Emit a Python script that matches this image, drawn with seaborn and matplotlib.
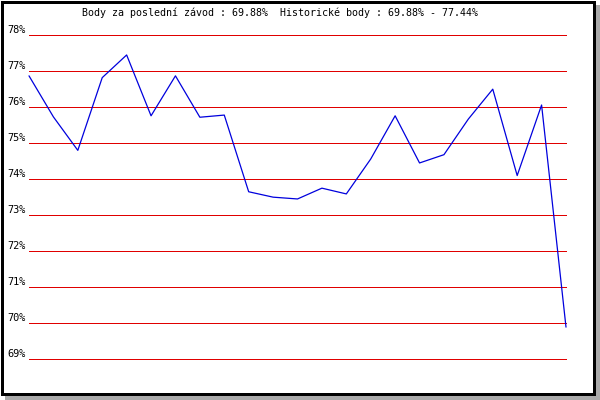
import matplotlib
matplotlib.use("Agg")
import matplotlib.pyplot as plt
import seaborn as sns
import pandas as pd
from matplotlib.patches import Rectangle

races = list(range(23))
scores = [76.86, 75.72, 74.79, 76.81, 77.44, 75.75, 76.86, 75.71, 75.77, 73.64,
          73.49, 73.44, 73.74, 73.58, 74.55, 75.75, 74.44, 74.67, 75.66, 76.49,
          74.09, 76.05, 69.88]
tick_values = [69, 70, 71, 72, 73, 74, 75, 76, 77, 78]
tick_labels = [f"{v}%" for v in tick_values]
title = "Body za poslední závod : 69.88%  Historické body : 69.88% - 77.44%"

sns.set_style("white")
plt.rcParams['font.family'] = ['DejaVu Sans Mono', 'DejaVu Sans']

W, H = 600, 400
fig = plt.figure(figsize=(6, 4), dpi=100, facecolor="white")

# frame with drop shadow
fig.patches.append(Rectangle((5 / W, 0), 595 / W, 395 / H, transform=fig.transFigure,
                             facecolor="#a9a9a9", edgecolor="none", zorder=-3))
fig.patches.append(Rectangle((0, 5 / H), 595 / W, 395 / H, transform=fig.transFigure,
                             facecolor="white", edgecolor="none", zorder=-2))
fig.patches.append(Rectangle((1.5 / W, 6.5 / H), 592 / W, 392 / H, transform=fig.transFigure,
                             facecolor="none", edgecolor="black", linewidth=2.16, zorder=5))

ax = fig.add_axes([29 / W, 41.2 / H, 537 / W, 324 / H])
ax.set_zorder(1)
ax.set_facecolor("none")
df = pd.DataFrame({"race": races, "score": scores})

ax.hlines(tick_values, 0, 22, colors="#e00000", linewidth=0.7, clip_on=False,
          zorder=1, antialiased=False)
sns.lineplot(data=df, x="race", y="score", ax=ax, color="#0000dd", linewidth=0.9,
             zorder=2, clip_on=False)

ax.set_xlim(0, 22)
ax.set_ylim(69, 78)
ax.set_xticks([])
ax.set_yticks(tick_values)
ax.set_yticklabels(tick_labels, fontsize=7.4, color="black")
for lab in ax.get_yticklabels():
    lab.set_verticalalignment("bottom")
ax.tick_params(axis="y", length=0, pad=2.2)
ax.set_xlabel("")
ax.set_ylabel("")
for s in ax.spines.values():
    s.set_visible(False)

fig.text(280.5 / W, 1 - 13 / H, title, ha="center", va="center", fontsize=7.2,
         color="black", zorder=6)

fig.savefig("out.png", dpi=100, facecolor="white")
